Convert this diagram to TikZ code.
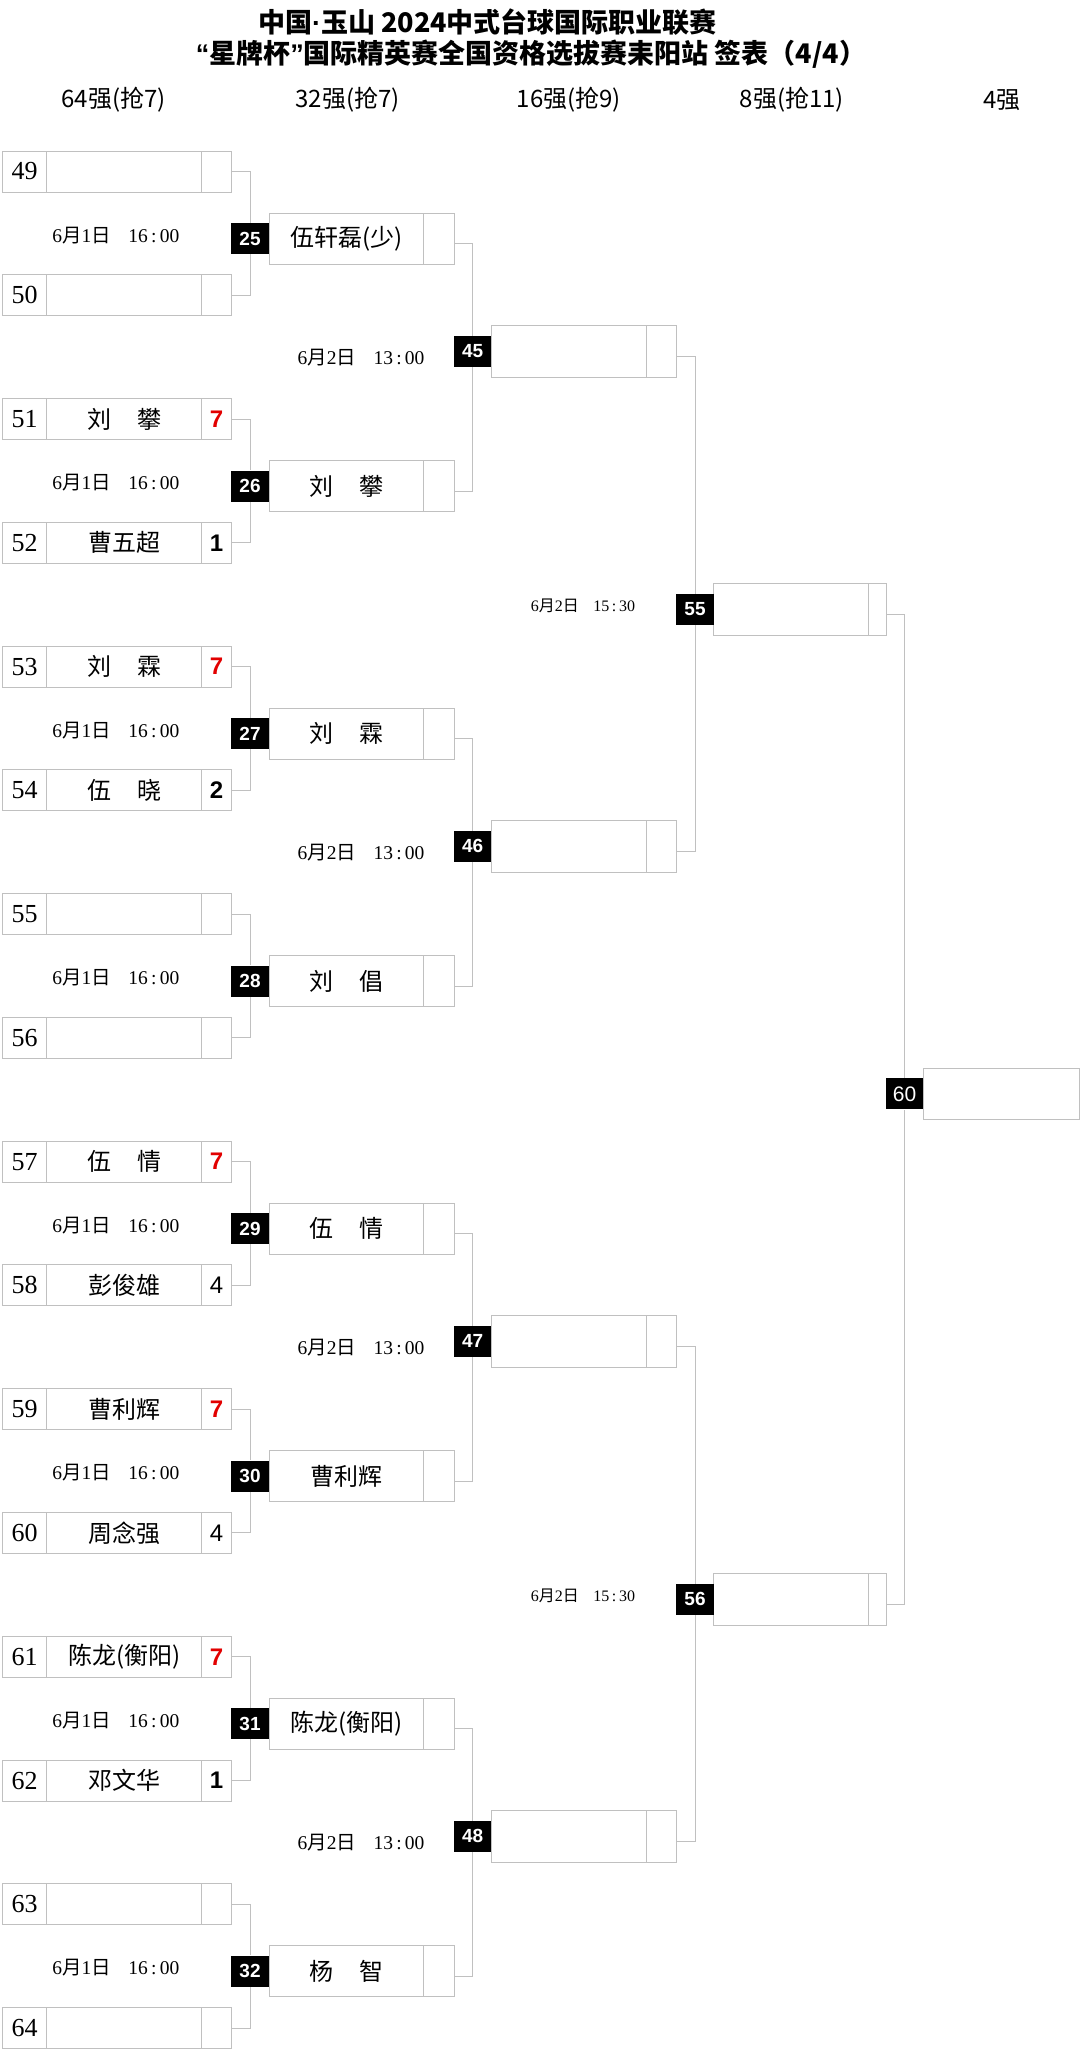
\documentclass[tikz,border=0pt]{standalone}
\usepackage{fontspec}
\setmainfont{Liberation Serif}
\newfontfamily\cjk{Noto Sans CJK SC}
\newfontfamily\lsans{Liberation Sans}
\usetikzlibrary{backgrounds}
\definecolor{gridc}{RGB}{192,192,192}
\definecolor{scorered}{RGB}{226,0,0}
\newcommand\dte[2]{6{\cjk 月}#1{\cjk 日}\hspace{0.9em}#2}
\tikzset{
  cell/.style={draw=gridc, line width=1pt, fill=white, rectangle, inner sep=0pt, anchor=west},
  conn/.style={draw=gridc, line width=1pt},
  badge/.style={fill=black, text=white, rectangle, minimum width=37.5pt, minimum height=31pt, inner sep=0pt, font=\lsans\bfseries\fontsize{19}{19}\selectfont},
  badgereg/.style={badge, font=\lsans\fontsize{21}{21}\selectfont},
  numtxt/.style={font=\fontsize{26}{26}\selectfont},
  nametxt/.style={font=\cjk\fontsize{24}{24}\selectfont},
  datetxt/.style={font=\fontsize{19.5}{19.5}\selectfont, inner sep=0pt},
  datesm/.style={font=\fontsize{16}{16}\selectfont, inner sep=0pt},
  titletxt/.style={font=\cjk\bfseries\fontsize{27}{27}\selectfont, inner sep=0pt},
  headtxt/.style={font=\cjk\fontsize{24}{24}\selectfont, inner sep=0pt},
}
\begin{document}
\begin{tikzpicture}[x=1pt,y=-1pt]
\useasboundingbox (0,0) rectangle (1080,2050);
% titles
\node[titletxt] (t1) at (487.5,22) {中国{\lsans\bfseries ·}玉山 2024中式台球国际职业联赛};
\node[titletxt] (t2) at (531,54) {{\lsans\bfseries “}星牌杯{\lsans\bfseries ”}国际精英赛全国资格选拔赛耒阳站 签表（4/4）};
% headers
\node[headtxt] (h1) at (113.5,100) {64强(抢7)};
\node[headtxt] (h2) at (347.7,100) {32强(抢7)};
\node[headtxt] (h3) at (569,100) {16强(抢9)};
\node[headtxt] (h4) at (792,100) {8强(抢11)};
\node[headtxt] (h5) at (1002,100) {4强};
% round 1
\foreach \i/\nm/\sc/\st in {49/{}/{}/0, 50/{}/{}/0, 51/{刘\hspace{1.1em}攀}/7/1, 52/曹五超/1/2,
  53/{刘\hspace{1.1em}霖}/7/1, 54/{伍\hspace{1.1em}晓}/2/2, 55/{}/{}/0, 56/{}/{}/0,
  57/{伍\hspace{1.1em}情}/7/1, 58/彭俊雄/4/3, 59/曹利辉/7/1, 60/周念强/4/3,
  61/陈龙(衡阳)/7/1, 62/邓文华/1/2, 63/{}/{}/0, 64/{}/{}/0}{
  \pgfmathsetmacro\cy{171.5+(\i-49)*123.77}
  \node[cell, minimum width=44.3pt, minimum height=41pt, numtxt] (an\i) at (2,\cy) {\i};
  \node[cell, minimum width=155pt, minimum height=41pt, nametxt] (ap\i) at (46.3,\cy) {\nm};
  \node[cell, minimum width=29.7pt, minimum height=41pt, font=\lsans\fontsize{24}{24}\selectfont] (as\i) at (201.3,\cy)
    {\ifcase\st\relax\or\color{scorered}\bfseries\or\bfseries\else\fi\sc};
}
% round 2
\foreach \k/\nm in {25/伍轩磊(少), 26/{刘\hspace{1.1em}攀}, 27/{刘\hspace{1.1em}霖}, 28/{刘\hspace{1.1em}倡},
  29/{伍\hspace{1.1em}情}, 30/曹利辉, 31/陈龙(衡阳), 32/{杨\hspace{1.1em}智}}{
  \pgfmathsetmacro\cy{238.5+(\k-25)*247.5}
  \node[cell, minimum width=154.6pt, minimum height=51pt, nametxt] (bp\k) at (268.7,\cy) {\nm};
  \node[cell, minimum width=30.4pt, minimum height=51pt] (bs\k) at (423.3,\cy) {};
  \node[badge] (m\k) at (250,\cy) {\k};
  \node[datetxt] (bd\k) at (115.8,\cy-3) {\dte{1}{16\,:\,00}};
}
% round 3
\foreach \k in {45,46,47,48}{
  \pgfmathsetmacro\cy{351.3+(\k-45)*495}
  \node[cell, minimum width=155.3pt, minimum height=52pt] (cp\k) at (491,\cy) {};
  \node[cell, minimum width=30pt, minimum height=52pt] (cs\k) at (646.3,\cy) {};
  \node[badge] (m\k) at (472.7,\cy) {\k};
  \node[datetxt] (cd\k) at (361,\cy+6.5) {\dte{2}{13\,:\,00}};
}
% round 4
\foreach \k in {55,56}{
  \pgfmathsetmacro\cy{609.3+(\k-55)*990}
  \node[cell, minimum width=155pt, minimum height=52pt] (dp\k) at (713.3,\cy) {};
  \node[cell, minimum width=18pt, minimum height=52pt] (ds\k) at (868.3,\cy) {};
  \node[badge] (m\k) at (695,\cy) {\k};
  \node[datesm] (dd\k) at (583,\cy-3) {\dte{2}{15\,:\,30}};
}
% round 5
\node[cell, minimum width=155.7pt, minimum height=51pt] (ep60) at (923,1093.8) {};
\node[badgereg] (m60) at (904.5,1093.8) {60};
% connectors
\begin{scope}[on background layer]
\foreach \a/\b/\m in {49/50/25, 51/52/26, 53/54/27, 55/56/28, 57/58/29, 59/60/30, 61/62/31, 63/64/32}{
  \draw[conn] (as\a.east) -| (m\m);
  \draw[conn] (as\b.east) -| (m\m);
}
\foreach \a/\b/\m in {25/26/45, 27/28/46, 29/30/47, 31/32/48}{
  \draw[conn] ([yshift=-5pt]bs\a.east) -| (m\m);
  \draw[conn] ([yshift=-5pt]bs\b.east) -| (m\m);
}
\foreach \a/\b/\m in {45/46/55, 47/48/56}{
  \draw[conn] ([yshift=-5pt]cs\a.east) -| (m\m);
  \draw[conn] ([yshift=-5pt]cs\b.east) -| (m\m);
}
\draw[conn] ([yshift=-4.7pt]ds55.east) -| (m60);
\draw[conn] ([yshift=-4.7pt]ds56.east) -| (m60);
\end{scope}
\end{tikzpicture}
\end{document}
